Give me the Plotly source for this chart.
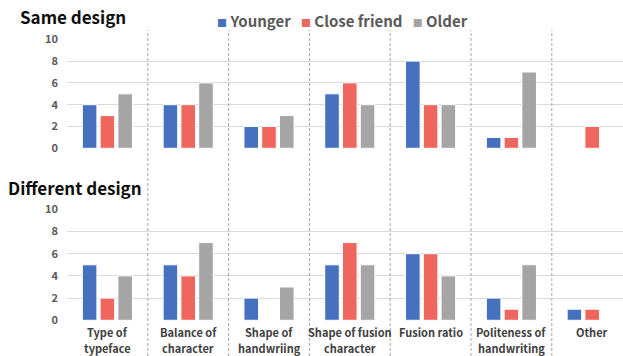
import plotly.graph_objects as go

categories = ["Type of<br>typeface", "Balance of<br>character", "Shape of<br>handwriing",
              "Shape of fusion<br>character", "Fusion ratio", "Politeness of<br>handwriting", "Other"]
series_names = ["Younger", "Close friend", "Older"]
series_colors = ["#4671BF", "#EE665D", "#A5A5A5"]

same_younger = [4, 4, 2, 5, 8, 1, 0]
same_close = [3, 4, 2, 6, 4, 1, 2]
same_older = [5, 6, 3, 4, 4, 7, 0]

diff_younger = [5, 5, 2, 5, 6, 2, 1]
diff_close = [2, 4, 0, 7, 6, 1, 1]
diff_older = [4, 7, 3, 5, 4, 5, 0]

y_ticks = [0, 2, 4, 6, 8, 10]
panel_titles = ["Same design", "Different design"]

W, H = 623, 356
FONT = "Noto Sans CJK JP"

fig = go.Figure()
xs = list(range(len(categories)))
for vals, name, color in zip([same_younger, same_close, same_older], series_names, series_colors):
    fig.add_trace(go.Bar(x=xs, y=vals, name=name, marker=dict(color=color, line=dict(color="white", width=1)),
                         xaxis="x", yaxis="y", showlegend=False))
for vals, name, color in zip([diff_younger, diff_close, diff_older], series_names, series_colors):
    fig.add_trace(go.Bar(x=xs, y=vals, name=name, marker=dict(color=color, line=dict(color="white", width=1)),
                         xaxis="x2", yaxis="y2", showlegend=False))

L = 67
cat_w = 80.8
xmax = -0.5 + (W - L) / cat_w

def px2paper(py):
    return 1 - py / H

def px2xpaper(px):
    return (px - L) / (W - L)

yaxis_common = dict(range=[0, 10], tickvals=y_ticks, showgrid=True, gridcolor="#D9D9D9", gridwidth=1,
                    zeroline=False, showline=False, ticks="", automargin=False, ticklabelstandoff=8,
                    tickfont=dict(family=FONT, size=11, color="#595959", weight="bold"))

fig.update_layout(
    width=W, height=H,
    margin=dict(l=L, r=0, t=0, b=0),
    paper_bgcolor="white", plot_bgcolor="white",
    barmode="group", bargap=0.34, bargroupgap=0.18,
    xaxis=dict(domain=[0, 1], range=[-0.5, xmax], showticklabels=False, showgrid=False,
               zeroline=False, showline=False, ticks="", anchor="y", automargin=False),
    xaxis2=dict(domain=[0, 1], range=[-0.5, xmax], showticklabels=False, showgrid=False,
                zeroline=False, showline=False, ticks="", anchor="y2", automargin=False),
    yaxis=dict(domain=[px2paper(148.3), px2paper(39.3)], anchor="x", **yaxis_common),
    yaxis2=dict(domain=[px2paper(320.3), px2paper(209.3)], anchor="x2", **yaxis_common),
)

# category labels, one annotation per line (reference uses generous line spacing)
line_centers = [332, 348]
for i, cat in enumerate(categories):
    for j, line in enumerate(cat.split("<br>")):
        fig.add_annotation(text=line, xref="x2", yref="paper", x=i, y=px2paper(line_centers[j]),
                           xanchor="center", yanchor="middle", showarrow=False,
                           font=dict(family=FONT, size=11, color="#404040", weight="bold"))

# category separators (dashed) spanning both panels
for i in range(len(categories) - 1):
    fig.add_shape(type="line", xref="x2", yref="paper", x0=i + 0.5, x1=i + 0.5,
                  y0=0, y1=px2paper(30), line=dict(color="#A6A6A6", width=1, dash="3px,2px"))

# panel titles
fig.add_annotation(text=panel_titles[0], xref="paper", yref="paper", x=px2xpaper(18), y=px2paper(16),
                   xanchor="left", yanchor="middle", showarrow=False,
                   font=dict(family=FONT, size=17, color="#0D0D0D", weight="bold"))
fig.add_annotation(text=panel_titles[1], xref="paper", yref="paper", x=px2xpaper(6), y=px2paper(187),
                   xanchor="left", yanchor="middle", showarrow=False,
                   font=dict(family=FONT, size=17, color="#0D0D0D", weight="bold"))

# legend
legend_text = "   ".join(
    f'<span style="color:{c};font-size:10px">■</span> {n}' for n, c in zip(series_names, series_colors)
)
fig.add_annotation(text=legend_text, xref="paper", yref="paper", x=px2xpaper(342), y=px2paper(20),
                   xanchor="center", yanchor="middle", showarrow=False,
                   font=dict(family=FONT, size=15, color="#595959", weight="bold"))

fig.write_html("out.html")
